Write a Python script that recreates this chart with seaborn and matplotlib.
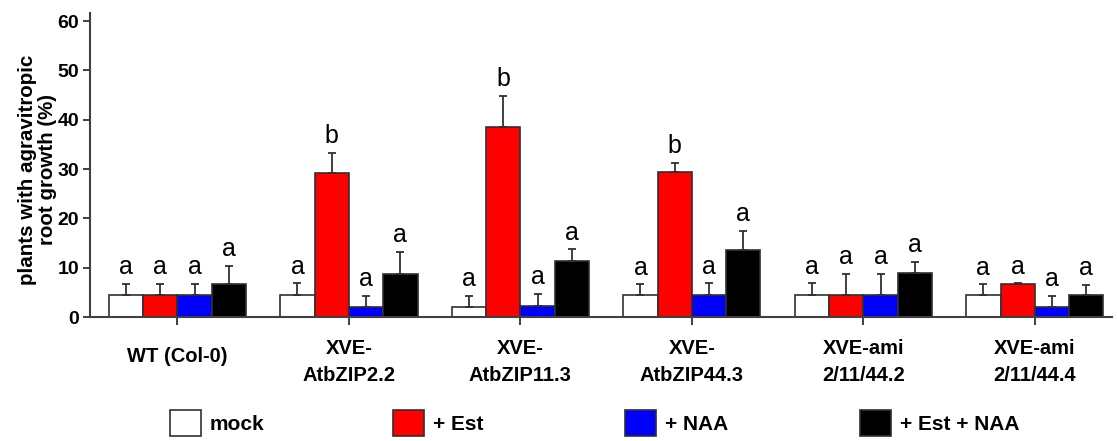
import matplotlib
matplotlib.use("Agg")
import matplotlib.pyplot as plt
import matplotlib.transforms as mtrans
import seaborn as sns
import pandas as pd

# ---- data ----
groups = ["WT (Col-0)", "XVE-\nAtbZIP2.2", "XVE-\nAtbZIP11.3", "XVE-\nAtbZIP44.3",
          "XVE-ami\n2/11/44.2", "XVE-ami\n2/11/44.4"]
treatments = ["mock", "+ Est", "+ NAA", "+ Est + NAA"]
colors = ["#ffffff", "#ff0000", "#0000ff", "#000000"]

mock = [4.5, 4.5, 2.1, 4.4, 4.5, 4.4]
est = [4.5, 29.2, 38.6, 29.3, 4.4, 6.6]
naa = [4.5, 2.1, 2.3, 4.5, 4.4, 2.1]
est_naa = [6.6, 8.8, 11.3, 13.6, 9.0, 4.4]

mock_err = [2.2, 2.3, 2.2, 2.2, 2.3, 2.2]
est_err = [2.2, 4.0, 6.2, 2.0, 4.4, 0.2]
naa_err = [2.2, 2.2, 2.3, 2.3, 4.4, 2.2]
est_naa_err = [3.8, 4.4, 2.4, 3.8, 2.1, 2.1]

mock_sig = ["a", "a", "a", "a", "a", "a"]
est_sig = ["a", "b", "b", "b", "a", "a"]
naa_sig = ["a", "a", "a", "a", "a", "a"]
est_naa_sig = ["a", "a", "a", "a", "a", "a"]

yticks = [0, 10, 20, 30, 40, 50, 60]
ylabel = "plants with agravitropic\nroot growth (%)"

values = [mock, est, naa, est_naa]
errors = [mock_err, est_err, naa_err, est_naa_err]
sigs = [mock_sig, est_sig, naa_sig, est_naa_sig]

rows = []
for t, vals in zip(treatments, values):
    for g, v in zip(groups, vals):
        rows.append({"group": g, "treatment": t, "value": v})
df = pd.DataFrame(rows)

# ---- style ----
sns.set_style("ticks")
plt.rcParams["font.family"] = ["Liberation Sans", "DejaVu Sans"]
plt.rcParams["text.color"] = "black"
edge = "#303030"

W, H = 1117, 441
fig = plt.figure(figsize=(W / 100, H / 100), dpi=100)
ax = fig.add_axes([90 / W, 124 / H, (1112 - 90) / W, (317 - 12.7) / H])

sns.barplot(data=df, x="group", y="value", hue="treatment", order=groups,
            hue_order=treatments, palette=colors, edgecolor=edge, linewidth=1.2,
            errorbar=None, width=0.8, legend=False, ax=ax, saturation=1)

for cont, errs, sg in zip(ax.containers, errors, sigs):
    xs = [b.get_x() + b.get_width() / 2 for b in cont]
    tops = [b.get_height() for b in cont]
    ax.errorbar(xs, tops, yerr=[[0] * len(errs), errs], fmt="none", ecolor=edge,
                elinewidth=1.3, capsize=3.2, capthick=1.3, zorder=1)
    for x, t, e, s in zip(xs, tops, errs, sg):
        ax.text(x, t + e + 2.0, s, ha="center", va="baseline", fontsize=18,
                color="black")

ax.set_ylim(0, 61.7)
ax.set_xlim(-0.51, 5.45)
ax.set_yticks(yticks)
ax.set_yticklabels([str(v) for v in yticks], fontsize=14, fontweight="bold")
ax.set_xlabel("")
ax.set_ylabel(ylabel, fontsize=14.8, fontweight="bold", linespacing=1.08, color="black")
ax.yaxis.set_label_coords(-0.032, 0.485)
ax.tick_params(axis="y", direction="out", length=5, width=1.3, color=edge, pad=3,
               labelcolor="black")
ax.tick_params(axis="x", direction="out", length=6, width=1.3, color=edge, pad=10,
               labelcolor="black")
for lbl in ax.get_xticklabels():
    lbl.set_fontsize(14.5)
    lbl.set_fontweight("bold")
    lbl.set_linespacing(1.54)
sns.despine(ax=ax)
for sp in ["left", "bottom"]:
    ax.spines[sp].set_color("#404040")
    ax.spines[sp].set_linewidth(1.5)

wt = ax.get_xticklabels()[0]
wt.set_transform(wt.get_transform() + mtrans.ScaledTranslation(0, -8 / 100, fig.dpi_scale_trans))

# legend: one entry per block, placed like the reference
legend_x = [170, 393, 625, 860]
for cont, lab, x0 in zip(ax.containers, treatments, legend_x):
    fig.legend([cont], [lab], loc="center left",
               bbox_to_anchor=(x0 / W, 18 / H), frameon=False,
               prop={"size": 15, "weight": "bold"}, handlelength=1.5, handleheight=1.55,
               handletextpad=0.4, borderpad=0, borderaxespad=0, labelcolor="black")

fig.savefig("out.png", dpi=100)
